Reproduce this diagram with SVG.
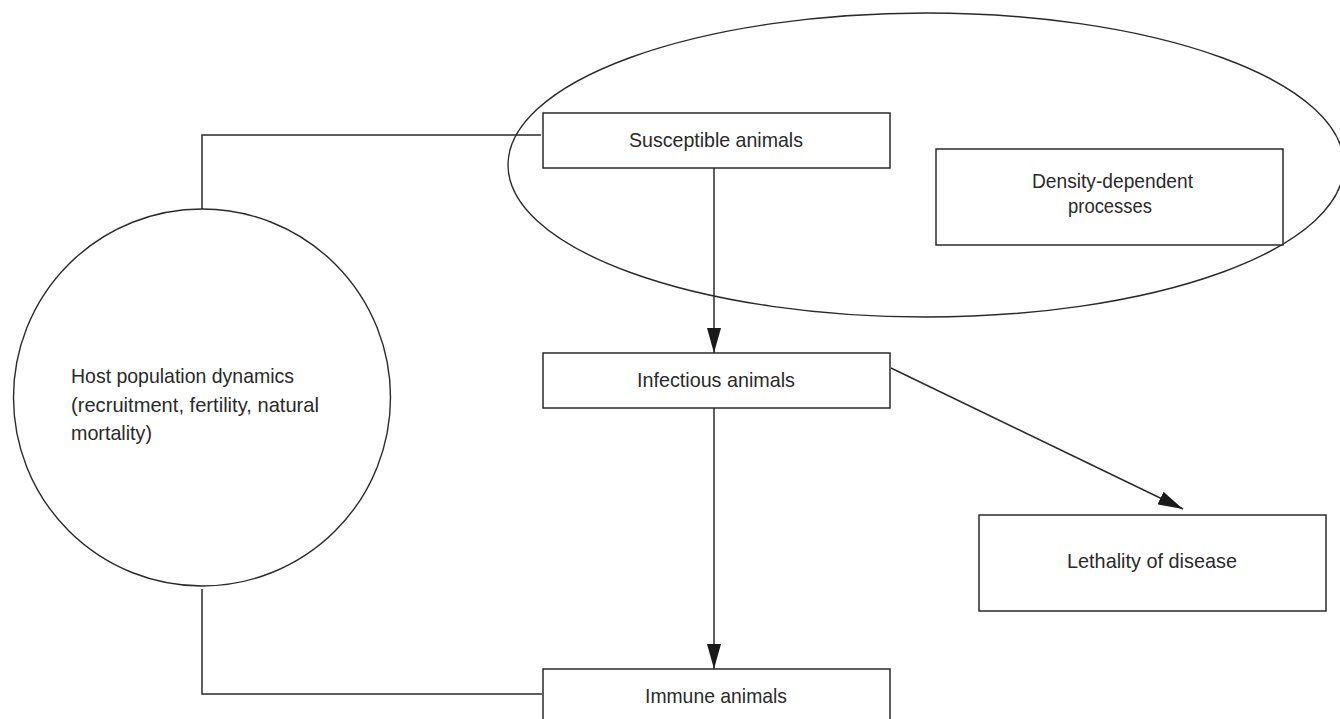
<svg xmlns="http://www.w3.org/2000/svg" width="1340" height="719" viewBox="0 0 1340 719">
<defs>
<style>
.box{fill:#fff;stroke:#2a2a2a;stroke-width:1.5}
.shape{fill:none;stroke:#2a2a2a;stroke-width:1.4}
.line{fill:none;stroke:#2a2a2a;stroke-width:1.5}
.lbl{font-family:"Liberation Sans",Arial,sans-serif;font-size:21px;fill:#2a2a2a}
</style>
<marker id="arr" markerUnits="userSpaceOnUse" markerWidth="26" markerHeight="14" refX="25" refY="7" orient="auto">
<path d="M0,0 L25,7 L0,14 Z" fill="#1a1a1a"/>
</marker>
</defs>
<rect width="1340" height="719" fill="#fff"/>

<g id="density-region">
<ellipse class="shape" cx="926" cy="165" rx="418" ry="152"/>
</g>

<g id="connectors">
<path class="line" d="M541,135 H202 V209"/>
<path class="line" d="M202,589 V694 H542"/>
<line class="line" x1="714" y1="168" x2="714" y2="353" marker-end="url(#arr)"/>
<line class="line" x1="714" y1="408" x2="714" y2="669" marker-end="url(#arr)"/>
<line class="line" x1="891" y1="368" x2="1183" y2="509" marker-end="url(#arr)"/>
</g>

<g id="host">
<circle class="shape" cx="202" cy="397.5" r="188.5"/>
<text class="lbl" x="71" y="383" textLength="223" lengthAdjust="spacingAndGlyphs">Host population dynamics</text>
<text class="lbl" x="71" y="412" textLength="248" lengthAdjust="spacingAndGlyphs">(recruitment, fertility, natural</text>
<text class="lbl" x="71" y="440" textLength="81" lengthAdjust="spacingAndGlyphs">mortality)</text>
</g>

<g id="susceptible">
<rect class="box" x="543" y="113" width="347" height="55"/>
<text class="lbl" x="629" y="147" textLength="174" lengthAdjust="spacingAndGlyphs">Susceptible animals</text>
</g>

<g id="density">
<rect class="box" x="936" y="149" width="347" height="96"/>
<text class="lbl" x="1032" y="188" textLength="161" lengthAdjust="spacingAndGlyphs">Density-dependent</text>
<text class="lbl" x="1068" y="213" textLength="84" lengthAdjust="spacingAndGlyphs">processes</text>
</g>

<g id="infectious">
<rect class="box" x="543" y="353" width="347" height="55"/>
<text class="lbl" x="637" y="387" textLength="158" lengthAdjust="spacingAndGlyphs">Infectious animals</text>
</g>

<g id="lethality">
<rect class="box" x="979" y="515" width="347" height="96"/>
<text class="lbl" x="1067" y="568" textLength="170" lengthAdjust="spacingAndGlyphs">Lethality of disease</text>
</g>

<g id="immune">
<rect class="box" x="543" y="669" width="347" height="70"/>
<text class="lbl" x="645" y="703" textLength="142" lengthAdjust="spacingAndGlyphs">Immune animals</text>
</g>
</svg>
